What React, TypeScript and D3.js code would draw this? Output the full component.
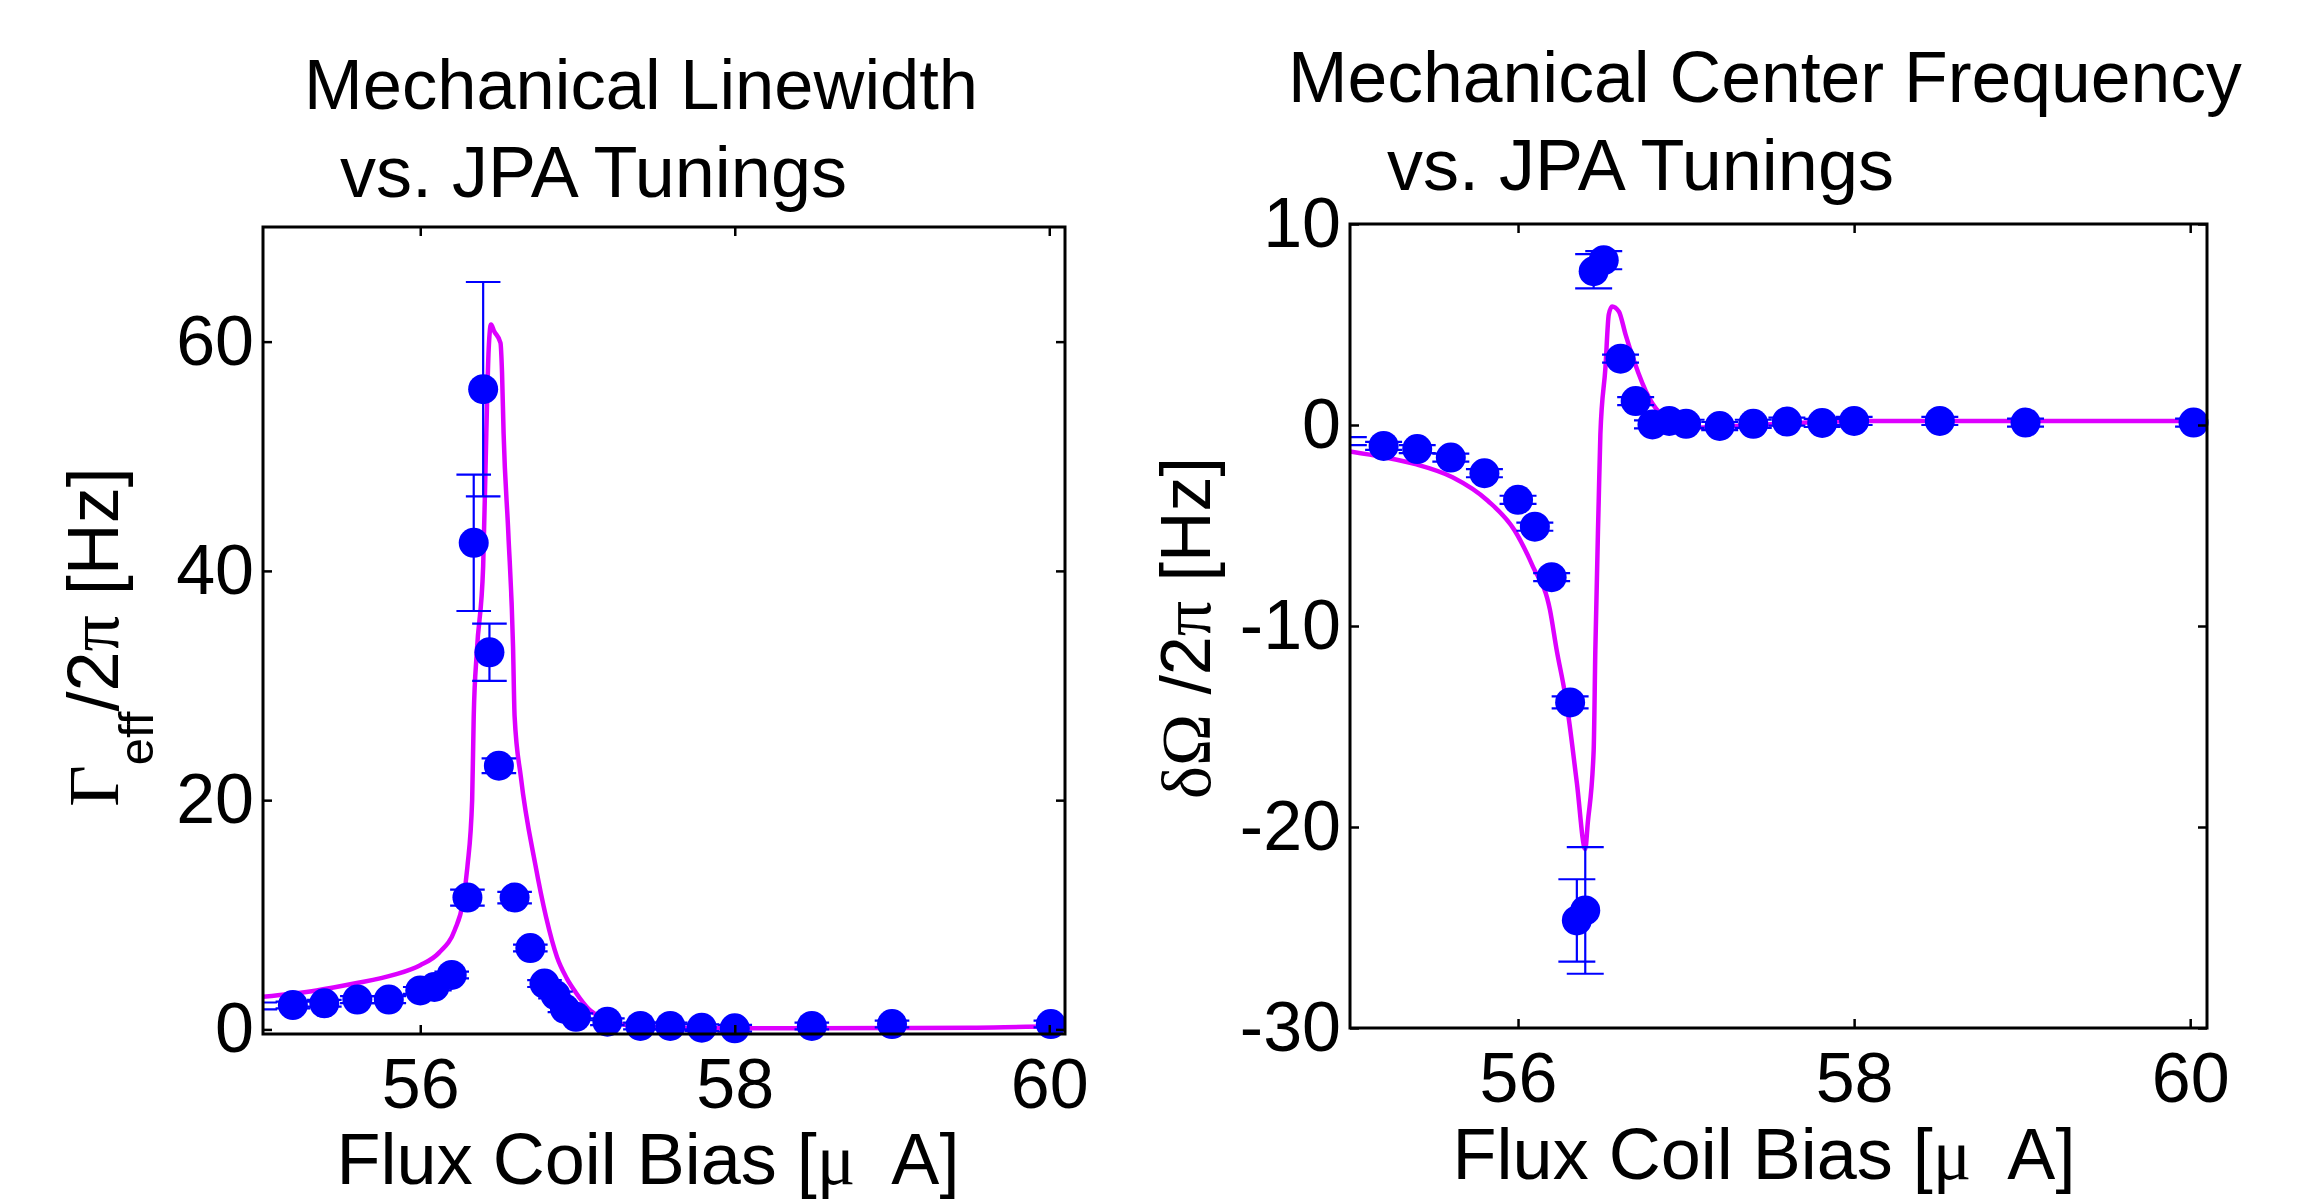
import React, { useRef, useEffect } from 'react';
import * as d3 from 'd3';

// shared x axis (flux coil bias, uA)
const xDomain = [55, 60.1];
const xTicks = [56, 58, 60];

// left panel: mechanical linewidth
const lwX = [54.98, 55.19, 55.39, 55.6, 55.8, 56.0, 56.09, 56.2, 56.3, 56.34, 56.4, 56.44, 56.5, 56.6, 56.7, 56.79, 56.86, 56.92, 56.99, 57.19, 57.4, 57.59, 57.79, 58.0, 58.49, 59.0, 60.01];
const lwY = [2.05, 2.13, 2.28, 2.6, 2.6, 3.4, 3.7, 4.75, 11.5, 42.45, 55.85, 32.9, 23.0, 11.5, 7.1, 4.0, 3.0, 1.8, 1.1, 0.67, 0.3, 0.3, 0.15, 0.1, 0.3, 0.47, 0.47];
const lwErr = [0.3, 0.3, 0.3, 0.3, 0.3, 0.3, 0.3, 0.3, 0.7, 5.95, 9.35, 2.5, 0.65, 0.5, 0.3, 0.3, 0.3, 0.3, 0.3, 0.3, 0.3, 0.3, 0.3, 0.3, 0.3, 0.3, 0.3];
const lwFitX = [55.0, 55.34, 55.58, 55.83, 56.0, 56.12, 56.22, 56.27, 56.3, 56.33, 56.34, 56.36, 56.4, 56.42, 56.435, 56.45, 56.47, 56.51, 56.52, 56.53, 56.56, 56.59, 56.6, 56.64, 56.73, 56.8, 56.87, 56.93, 56.99, 57.07, 57.14, 57.3, 57.6, 58.0, 58.5, 59.0, 59.5, 60.0, 60.1];
const lwFitY = [2.85, 3.4, 4.0, 4.75, 5.6, 6.7, 8.7, 11, 14.2, 20, 27.3, 33, 40.4, 52, 59.3, 61.5, 60.9, 59.9, 57.3, 52, 43.3, 33.4, 27.3, 22, 14.5, 9.8, 6.3, 4.5, 3.2, 1.8, 1.1, 0.4, 0.15, 0.1, 0.1, 0.12, 0.15, 0.25, 0.25];
const lwTicks = [0, 20, 40, 60];

// right panel: mechanical center frequency shift
const cfX = [54.99, 55.2, 55.4, 55.6, 55.8, 56.0, 56.1, 56.2, 56.31, 56.35, 56.4, 56.45, 56.51, 56.61, 56.7, 56.8, 56.9, 57.0, 57.2, 57.4, 57.6, 57.81, 58.0, 58.51, 59.02, 60.02];
const cfY = [-0.8, -1.04, -1.2, -1.62, -2.4, -3.72, -5.06, -7.57, -13.8, -24.65, -24.15, 7.65, 8.2, 3.3, 1.19, 0.03, 0.2, 0.06, -0.05, 0.06, 0.17, 0.1, 0.2, 0.2, 0.12, 0.12];
const cfErr = [0.2, 0.2, 0.2, 0.2, 0.2, 0.2, 0.2, 0.2, 0.3, 2.05, 3.15, 0.85, 0.45, 0.2, 0.2, 0.2, 0.2, 0.2, 0.2, 0.2, 0.2, 0.2, 0.2, 0.2, 0.2, 0.2];
const cfFitX = [55.0, 55.2, 55.39, 55.61, 55.82, 55.98, 56.09, 56.19, 56.23, 56.28, 56.3, 56.35, 56.4, 56.415, 56.45, 56.46, 56.48, 56.49, 56.52, 56.54, 56.56, 56.6, 56.64, 56.69, 56.78, 56.87, 56.98, 57.1, 57.4, 57.8, 58.0, 59.0, 60.1];
const cfFitY = [-1.32, -1.6, -1.95, -2.6, -3.77, -5.25, -7.07, -9.2, -11.2, -13.4, -14.5, -17.8, -21.1, -19.8, -16.2, -11.2, -3.8, -0.46, 2.84, 5.5, 5.9, 5.65, 4.5, 3.2, 1.35, 0.36, -0.13, -0.13, 0.0, 0.15, 0.2, 0.2, 0.2];
const cfTicks = [-30, -20, -10, 0, 10];

const FONT = '"Liberation Sans", Arial, Helvetica, sans-serif';
const SERIF = '"Liberation Serif", "Times New Roman", serif';
const BLUE = '#0000ff';
const MAGENTA = '#dd00ff';

const panels = [
  { id: 'lw', left: 263, right: 1065, top: 227, bottom: 1034, yDomain: [-0.4, 70], yTicks: lwTicks,
    xs: lwX, ys: lwY, errs: lwErr, fitX: lwFitX, fitY: lwFitY },
  { id: 'cf', left: 1350, right: 2207, top: 224, bottom: 1028, yDomain: [-30, 10], yTicks: cfTicks,
    xs: cfX, ys: cfY, errs: cfErr, fitX: cfFitX, fitY: cfFitY },
];

const drawPanel = (svg: any, p: any) => {
  const x = d3.scaleLinear().domain(xDomain).range([p.left, p.right]);
  const y = d3.scaleLinear().domain(p.yDomain).range([p.bottom, p.top]);

  svg.append('clipPath').attr('id', 'clip-' + p.id)
    .append('rect')
    .attr('x', p.left).attr('y', p.top)
    .attr('width', p.right - p.left).attr('height', p.bottom - p.top);

  const g = svg.append('g').attr('clip-path', `url(#clip-${p.id})`);

  // fit curve
  const line = d3.line<number>().x((d, i) => x(p.fitX[i])).y(d => y(d)).curve(d3.curveMonotoneX);
  g.append('path').datum(p.fitY)
    .attr('d', line)
    .attr('fill', 'none')
    .attr('stroke', MAGENTA)
    .attr('stroke-width', 4.5)
    .attr('stroke-linejoin', 'round');

  // error bars
  const idx = d3.range(p.xs.length);
  const cap = 0.11;
  const eb = g.append('g').attr('stroke', BLUE).attr('stroke-width', 2.2);
  idx.forEach(i => {
    const cx = x(p.xs[i]);
    const lo = y(p.ys[i] - p.errs[i]);
    const hi = y(p.ys[i] + p.errs[i]);
    eb.append('line').attr('x1', cx).attr('x2', cx).attr('y1', lo).attr('y2', hi);
    eb.append('line').attr('x1', x(p.xs[i] - cap)).attr('x2', x(p.xs[i] + cap)).attr('y1', lo).attr('y2', lo);
    eb.append('line').attr('x1', x(p.xs[i] - cap)).attr('x2', x(p.xs[i] + cap)).attr('y1', hi).attr('y2', hi);
  });

  // markers (hidden when centre falls outside the axes)
  svg.append('g').selectAll('circle')
    .data(idx.filter(i => p.xs[i] >= xDomain[0] && p.xs[i] <= xDomain[1]))
    .enter()
    .append('circle')
    .attr('cx', (i: number) => x(p.xs[i]))
    .attr('cy', (i: number) => y(p.ys[i]))
    .attr('r', 15)
    .attr('fill', BLUE);

  // axes box with inward ticks
  const styleAxis = (ag: any) => {
    ag.select('.domain').remove();
    ag.selectAll('.tick line').attr('stroke', '#000').attr('stroke-width', 2.5);
    ag.selectAll('text').attr('font-family', FONT).attr('font-size', 70).attr('fill', '#000');
  };
  const fmt = (d: any) => String(d);

  svg.append('g').attr('transform', `translate(0,${p.bottom})`)
    .call(d3.axisBottom(x).tickValues(xTicks).tickFormat(fmt).tickSizeInner(-9).tickSizeOuter(0).tickPadding(24))
    .call(styleAxis);
  svg.append('g').attr('transform', `translate(0,${p.top})`)
    .call(d3.axisTop(x).tickValues(xTicks).tickFormat(() => '').tickSizeInner(-9).tickSizeOuter(0))
    .call(styleAxis);
  svg.append('g').attr('transform', `translate(${p.left},0)`)
    .call(d3.axisLeft(y).tickValues(p.yTicks).tickFormat(fmt).tickSizeInner(-9).tickSizeOuter(0).tickPadding(9))
    .call(styleAxis);
  svg.append('g').attr('transform', `translate(${p.right},0)`)
    .call(d3.axisRight(y).tickValues(p.yTicks).tickFormat(() => '').tickSizeInner(-9).tickSizeOuter(0))
    .call(styleAxis);

  svg.append('rect')
    .attr('x', p.left).attr('y', p.top)
    .attr('width', p.right - p.left).attr('height', p.bottom - p.top)
    .attr('fill', 'none').attr('stroke', '#000').attr('stroke-width', 3);
};

const App = () => {
  const ref = useRef<SVGSVGElement>(null);

  useEffect(() => {
    const svg = d3.select(ref.current);
    svg.selectAll('*').remove();
    panels.forEach(p => drawPanel(svg, p));

    const text = (xp: number, yp: number, s: string, size = 71) =>
      svg.append('text').attr('x', xp).attr('y', yp)
        .attr('font-family', FONT).attr('font-size', size).attr('fill', '#000').text(s);

    // titles
    text(304, 109, 'Mechanical Linewidth', 70.5);
    text(340, 197, 'vs. JPA Tunings', 72);
    text(1288, 102, 'Mechanical Center Frequency', 71.5);
    text(1387, 190, 'vs. JPA Tunings', 72);

    // x labels
    const xlab = (cx: number, by: number) => {
      const t = svg.append('text').attr('x', cx).attr('y', by).attr('text-anchor', 'middle')
        .attr('font-family', FONT).attr('font-size', 72).attr('fill', '#000');
      t.append('tspan').text('Flux Coil Bias [');
      t.append('tspan').attr('font-family', SERIF).text('\u03bc');
      t.append('tspan').attr('dx', 36).text('A]');
    };
    xlab(648, 1184);
    xlab(1764, 1179);

    // y label left: Gamma_eff / 2 pi [Hz]
    const yl = svg.append('text').attr('transform', 'translate(118,637) rotate(-90)')
      .attr('text-anchor', 'middle').attr('font-family', FONT).attr('font-size', 72).attr('fill', '#000');
    yl.append('tspan').attr('font-family', SERIF).text('\u0393');
    yl.append('tspan').attr('font-size', 49).attr('dy', 35).text('eff');
    yl.append('tspan').attr('dy', -35).text('/2');
    yl.append('tspan').attr('font-family', SERIF).text('\u03c0');
    yl.append('tspan').text(' [Hz]');

    // y label right: delta Omega / 2 pi [Hz]
    const yr = svg.append('text').attr('transform', 'translate(1210,628) rotate(-90)')
      .attr('text-anchor', 'middle').attr('font-family', FONT).attr('font-size', 70).attr('fill', '#000');
    yr.append('tspan').attr('font-family', SERIF).text('\u03b4\u03a9');
    yr.append('tspan').text(' /2');
    yr.append('tspan').attr('font-family', SERIF).text('\u03c0');
    yr.append('tspan').text(' [Hz]');
  }, []);

  return (
    <svg ref={ref} width={2305} height={1199}
      style={{ position: 'absolute', left: 0, top: 0, background: '#fff' }} />
  );
};

export default App;
